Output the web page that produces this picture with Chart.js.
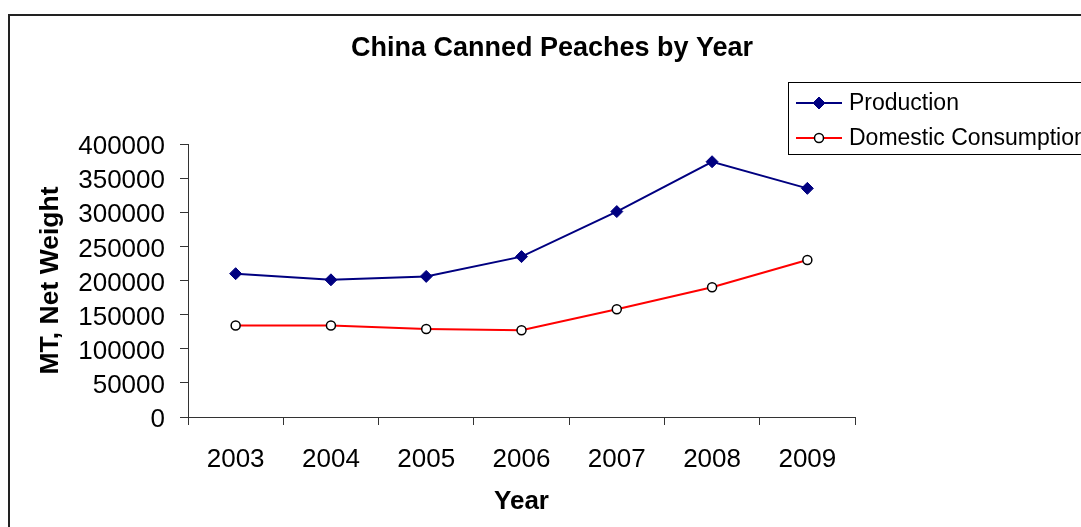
<!DOCTYPE html>
<html>
<head>
<meta charset="utf-8">
<script src="https://cdn.jsdelivr.net/npm/chart.js"></script>
<style>
  body { margin: 0; background: #fff; }
  canvas { display: block; }
</style>
</head>
<body>
<canvas id="peaches" width="1081" height="527"></canvas>
<script>
// data
var years = ['2003', '2004', '2005', '2006', '2007', '2008', '2009'];
var production = [210000, 201000, 206000, 235000, 301000, 374000, 335000];
var domestic = [134000, 134000, 129000, 127000, 158000, 190000, 230000];
var seriesNames = ['Production', 'Domestic Consumption'];
var chartTitle = 'China Canned Peaches by Year';

var FONT = '"Liberation Sans", Arial, sans-serif';

// frame, title and legend drawn by hand
var decor = {
    id: 'decor',
    afterDraw: function(chart) {
        var c = chart.ctx;
        c.save();
        // outer frame
        c.strokeStyle = '#222';
        c.lineWidth = 2;
        c.strokeRect(9, 15, 1100, 600);

        // title
        c.fillStyle = '#000';
        c.font = 'bold 27px ' + FONT;
        c.textAlign = 'center';
        c.textBaseline = 'middle';
        c.fillText(chartTitle, 552, 49);

        // legend box
        c.lineWidth = 1;
        c.strokeStyle = '#000';
        c.strokeRect(788.5, 82.5, 400, 72);
        c.font = '23px ' + FONT;
        c.textAlign = 'left';
        chart.data.datasets.forEach(function(ds, i) {
            var y = 103 + i * 35;
            c.strokeStyle = ds.borderColor;
            c.lineWidth = 2;
            c.beginPath();
            c.moveTo(796, y);
            c.lineTo(842, y);
            c.stroke();
            c.lineWidth = ds.pointBorderWidth;
            c.fillStyle = ds.pointBackgroundColor;
            c.strokeStyle = ds.pointBorderColor;
            c.beginPath();
            if (ds.pointStyle === 'rectRot') {
                var r = ds.pointRadius;
                c.moveTo(819, y - r);
                c.lineTo(819 + r, y);
                c.lineTo(819, y + r);
                c.lineTo(819 - r, y);
                c.closePath();
            } else {
                c.arc(819, y, ds.pointRadius, 0, Math.PI * 2);
            }
            c.fill();
            c.stroke();
            c.fillStyle = '#000';
            c.fillText(ds.label, 849, y + 1);
        });
        c.restore();
    }
};

new Chart(document.getElementById('peaches'), {
    type: 'line',
    data: {
        labels: years,
        datasets: [{
            label: seriesNames[0],
            data: production,
            borderColor: '#000080',
            borderWidth: 2,
            pointStyle: 'rectRot',
            pointRadius: 6,
            pointBackgroundColor: '#000080',
            pointBorderColor: '#000080',
            pointBorderWidth: 1,
            tension: 0
        }, {
            label: seriesNames[1],
            data: domestic,
            borderColor: '#ff0000',
            borderWidth: 2,
            pointStyle: 'circle',
            pointRadius: 4.5,
            pointBackgroundColor: '#ffffff',
            pointBorderColor: '#000000',
            pointBorderWidth: 1.5,
            tension: 0
        }]
    },
    options: {
        responsive: false,
        animation: false,
        layout: { padding: { left: 0, right: 226, top: 144, bottom: 0 } },
        plugins: {
            legend: { display: false },
            title: { display: false },
            tooltip: { enabled: false }
        },
        scales: {
            x: {
                offset: true,
                grid: { offset: true, drawOnChartArea: false, drawTicks: true, tickLength: 8, color: '#333' },
                border: { display: true, color: '#333', width: 1 },
                ticks: { color: '#000', font: { family: FONT, size: 26 }, padding: 19, maxRotation: 0, autoSkip: false },
                title: { display: true, text: 'Year', color: '#000', font: { family: FONT, size: 26, weight: 'bold' }, padding: { top: 0, bottom: 10 } },
                afterFit: function(scale) { scale.height = 110; }
            },
            y: {
                min: 0,
                max: 400000,
                grid: { drawOnChartArea: false, drawTicks: true, tickLength: 8, color: '#333' },
                border: { display: true, color: '#333', width: 1 },
                ticks: {
                    stepSize: 50000,
                    autoSkip: false,
                    labelOffset: 3,
                    color: '#000',
                    font: { family: FONT, size: 26 },
                    padding: 15,
                    callback: function(v) { return String(v); }
                },
                title: { display: true, text: 'MT, Net Weight', color: '#000', font: { family: FONT, size: 26.5, weight: 'bold' }, padding: { top: 35, bottom: 0 } },
                afterFit: function(scale) { scale.width = 188; }
            }
        }
    },
    plugins: [decor]
});
</script>
</body>
</html>
